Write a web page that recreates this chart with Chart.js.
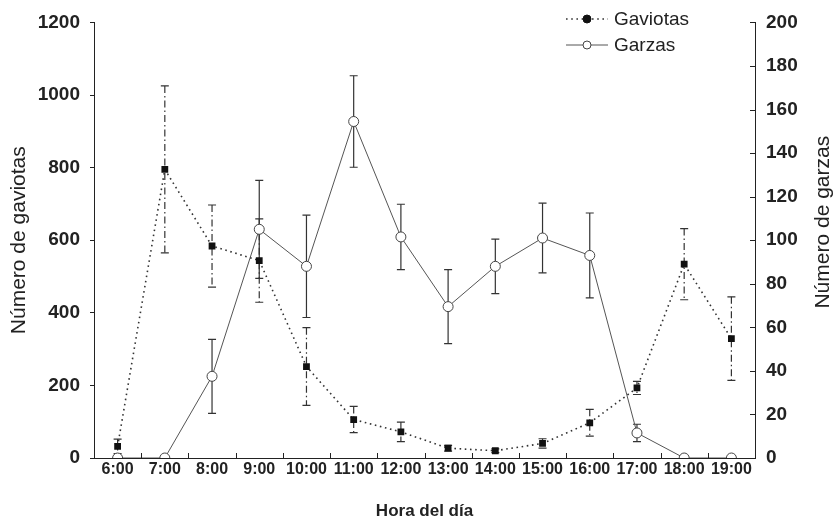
<!DOCTYPE html>
<html>
<head>
<meta charset="utf-8">
<script src="https://cdn.jsdelivr.net/npm/chart.js@4.4.1/dist/chart.umd.min.js"></script>
<style>
  html, body { margin: 0; padding: 0; background: #fff; }
  #wrap { width: 835px; height: 526px; }
</style>
</head>
<body>
<div id="wrap"><canvas id="chart"></canvas></div>
<script>
// valores
const horas = ['6:00', '7:00', '8:00', '9:00', '10:00', '11:00', '12:00', '13:00', '14:00', '15:00', '16:00', '17:00', '18:00', '19:00'];
const gaviotas = [32, 795, 584, 544, 252, 106, 72, 27, 20, 40, 97, 193, 534, 329];
const gaviotasErr = [20, 230, 113, 115, 107, 36, 27, 8, 5, 13, 37, 18, 98, 115];
const garzas = [0, 0, 37.5, 105, 88, 154.5, 101.5, 69.5, 88, 101, 93, 11.5, 0, 0];
const garzasErr = [0, 0, 17, 22.5, 23.5, 21, 15, 17, 12.5, 16, 19.5, 4, 0, 0];
const ticksGaviotas = [0, 200, 400, 600, 800, 1000, 1200];
const ticksGarzas = [0, 20, 40, 60, 80, 100, 120, 140, 160, 180, 200];

const INK = '#222';
const tickFont = { family: "'Liberation Sans', Arial, sans-serif", size: 19, weight: 'bold' };
const xFont = { family: "'Liberation Sans Narrow', 'Liberation Sans', Arial, sans-serif", size: 16, weight: 'bold' };

// barras de error, dibujadas debajo de las líneas
const errorBars = {
  id: 'errorBars',
  beforeDatasetsDraw(chart) {
    const ctx = chart.ctx;
    chart.data.datasets.forEach((ds, di) => {
      const meta = chart.getDatasetMeta(di);
      const scale = chart.scales[ds.yAxisID];
      ctx.save();
      ctx.strokeStyle = ds.errColor;
      ctx.lineWidth = 1.2;
      ds.data.forEach((v, i) => {
        const e = ds.err[i];
        if (!e) return;
        const x = meta.data[i].x;
        const yt = scale.getPixelForValue(v + e);
        const yb = scale.getPixelForValue(v - e);
        ctx.setLineDash(ds.errDash);
        ctx.beginPath();
        ctx.moveTo(x, yt);
        ctx.lineTo(x, yb);
        ctx.stroke();
        ctx.setLineDash([]);
        ctx.beginPath();
        ctx.moveTo(x - 4, yt); ctx.lineTo(x + 4, yt);
        ctx.moveTo(x - 4, yb); ctx.lineTo(x + 4, yb);
        ctx.stroke();
      });
      ctx.restore();
    });
  }
};

// marcas hacia dentro en el eje x y en el eje derecho, leyenda y título derecho
const extras = {
  id: 'extras',
  afterDraw(chart) {
    const ctx = chart.ctx;
    const x = chart.scales.x, y1 = chart.scales.y1;
    const area = chart.chartArea;
    ctx.save();
    ctx.strokeStyle = INK;
    ctx.lineWidth = 1;
    ctx.beginPath();
    for (let i = 0; i < horas.length - 1; i++) {
      const px = Math.round((x.getPixelForTick(i) + x.getPixelForTick(i + 1)) / 2) + 0.5;
      ctx.moveTo(px, area.bottom);
      ctx.lineTo(px, area.bottom - 5);
    }
    y1.ticks.forEach(t => {
      const py = Math.round(y1.getPixelForValue(t.value)) + 0.5;
      ctx.moveTo(area.right, py);
      ctx.lineTo(area.right - 5, py);
    });
    ctx.stroke();

    // título del eje derecho, leído de abajo arriba
    ctx.fillStyle = INK;
    ctx.font = "21px 'Liberation Sans', Arial, sans-serif";
    ctx.textAlign = 'center';
    ctx.textBaseline = 'middle';
    ctx.translate(823, (area.top + area.bottom) / 2 - 18);
    ctx.rotate(-Math.PI / 2);
    ctx.fillText('Número de garzas', 0, 0);
    ctx.restore();

    // leyenda
    ctx.save();
    const lx = 566, lw = 42;
    const rows = [
      { label: 'Gaviotas', y: 19, ds: chart.data.datasets[0] },
      { label: 'Garzas', y: 45, ds: chart.data.datasets[1] }
    ];
    rows.forEach(r => {
      ctx.strokeStyle = r.ds.borderColor;
      ctx.lineWidth = r.ds.borderWidth;
      ctx.setLineDash(r.ds.borderDash || []);
      ctx.beginPath();
      ctx.moveTo(lx, r.y);
      ctx.lineTo(lx + lw, r.y);
      ctx.stroke();
      ctx.setLineDash([]);
      ctx.beginPath();
      ctx.arc(lx + lw / 2, r.y, 4, 0, Math.PI * 2);
      ctx.fillStyle = r.ds.pointBackgroundColor;
      ctx.fill();
      ctx.strokeStyle = r.ds.pointBorderColor;
      ctx.lineWidth = 1;
      ctx.stroke();
      ctx.fillStyle = INK;
      ctx.font = "19px 'Liberation Sans', Arial, sans-serif";
      ctx.textAlign = 'left';
      ctx.textBaseline = 'middle';
      ctx.fillText(r.label, lx + lw + 6, r.y + 1);
    });
    ctx.restore();
  }
};

new Chart(document.getElementById('chart'), {
  type: 'line',
  data: {
    labels: horas,
    datasets: [
      {
        label: 'Gaviotas',
        data: gaviotas,
        err: gaviotasErr,
        errDash: [7, 3, 1.5, 3],
        errColor: '#333',
        yAxisID: 'y',
        borderColor: '#333',
        borderWidth: 1.6,
        borderDash: [1.6, 3.6],
        pointStyle: 'rect',
        pointRadius: 4.8,
        pointBackgroundColor: '#111',
        pointBorderColor: '#111',
        pointBorderWidth: 0,
        tension: 0
      },
      {
        label: 'Garzas',
        data: garzas,
        err: garzasErr,
        errDash: [],
        errColor: '#333',
        yAxisID: 'y1',
        borderColor: '#555',
        borderWidth: 1,
        pointStyle: 'circle',
        pointRadius: 5,
        pointBackgroundColor: '#fff',
        pointBorderColor: '#444',
        pointBorderWidth: 1,
        tension: 0
      }
    ]
  },
  options: {
    responsive: true,
    maintainAspectRatio: false,
    animation: false,
    devicePixelRatio: 1,
    layout: { padding: { top: 8, left: 0, right: 0, bottom: 0 } },
    plugins: {
      legend: { display: false },
      tooltip: { enabled: false }
    },
    scales: {
      x: {
        type: 'category',
        offset: true,
        grid: { display: false, drawTicks: false },
        border: { display: true, color: INK, width: 1 },
        ticks: { color: INK, font: xFont, padding: 2, autoSkip: false, maxRotation: 0 },
        title: {
          display: true, text: 'Hora del día', color: INK,
          font: { family: "'Liberation Sans', Arial, sans-serif", size: 17, weight: 'bold' },
          padding: { top: 4, bottom: 4 }
        },
        afterFit(s) { s.height = 68; }
      },
      y: {
        position: 'left',
        min: 0, max: 1200,
        afterBuildTicks(s) { s.ticks = ticksGaviotas.map(v => ({ value: v })); },
        grid: { drawOnChartArea: false, drawTicks: true, tickLength: 4, color: INK },
        border: { display: true, color: INK, width: 1 },
        ticks: { color: INK, font: tickFont, padding: 10, callback: v => String(v) },
        title: {
          display: true, text: 'Número de gaviotas', color: INK,
          font: { family: "'Liberation Sans', Arial, sans-serif", size: 21 },
          padding: { top: 7, bottom: 0 }
        },
        afterFit(s) { s.width = 94; }
      },
      y1: {
        position: 'right',
        min: 0, max: 200,
        afterBuildTicks(s) { s.ticks = ticksGarzas.map(v => ({ value: v })); },
        grid: { drawOnChartArea: false, drawTicks: false },
        border: { display: true, color: INK, width: 1 },
        ticks: { color: INK, font: tickFont, padding: 11, callback: v => String(v) },
        afterFit(s) { s.width = 80; }
      }
    }
  },
  plugins: [errorBars, extras]
});
</script>
</body>
</html>
